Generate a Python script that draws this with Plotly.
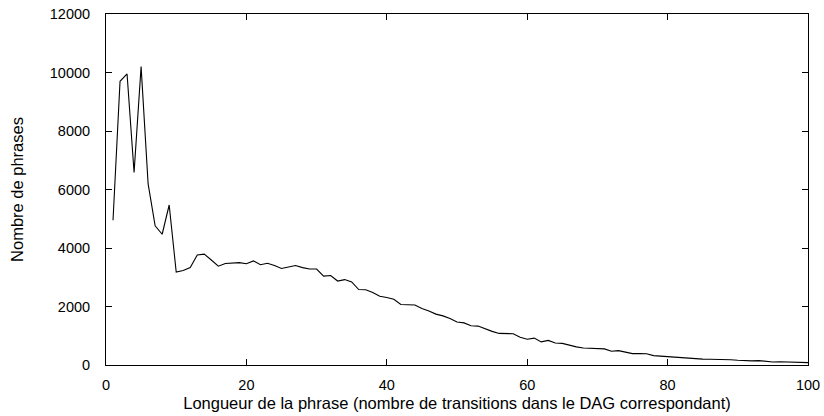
import plotly.graph_objects as go

lengths = list(range(1, 101))
counts = [
    4950, 9700, 9950, 6580, 10200, 6190, 4760, 4470, 5470, 3180,
    3230, 3330, 3760, 3790, 3590, 3380, 3470, 3480, 3500, 3460,
    3560, 3430, 3480, 3400, 3300, 3350, 3400, 3330, 3280, 3280,
    3040, 3060, 2870, 2920, 2840, 2580, 2575, 2480, 2350, 2310,
    2250, 2070, 2050, 2050, 1930, 1850, 1740, 1680, 1590, 1470,
    1440, 1340, 1330, 1230, 1150, 1080, 1080, 1070, 950, 880,
    920, 790, 840, 750, 740, 670, 620, 580, 570, 550,
    550, 470, 490, 440, 390, 390, 385, 320, 300, 285,
    265, 240, 230, 215, 200, 195, 195, 190, 180, 160,
    140, 140, 150, 120, 105, 110, 100, 90, 85, 80,
]
x_ticks = [0, 20, 40, 60, 80, 100]
y_ticks = [0, 2000, 4000, 6000, 8000, 10000, 12000]

fig = go.Figure(go.Scatter(x=lengths, y=counts, mode="lines",
                           line=dict(color="black", width=1.1), showlegend=False))

family = "Liberation Sans, Arial, Helvetica, sans-serif"
tick_font = dict(family=family, size=14.5, color="black")
axis_common = dict(showline=True, linecolor="black", linewidth=1, mirror="ticks",
                   ticks="inside", ticklen=6, tickcolor="black", tickwidth=1,
                   showgrid=False, zeroline=False, tickfont=tick_font,
                   automargin=False, tickformat="d", ticklabeloverflow="allow")

fig.update_layout(
    width=824, height=416,
    margin=dict(l=106, r=16, t=14, b=51),
    paper_bgcolor="white", plot_bgcolor="white",
    font=dict(family=family, color="black"),
    xaxis=dict(range=[0, 100], tickvals=x_ticks, ticklabelstandoff=7,
               title=dict(text="Longueur de la phrase (nombre de transitions dans le DAG correspondant)",
                          font=dict(family=family, size=16.5, color="black"), standoff=5),
               **axis_common),
    yaxis=dict(range=[0, 12000], tickvals=y_ticks, ticklabelstandoff=12,
               title=dict(text="Nombre de phrases",
                          font=dict(family=family, size=16.5, color="black"), standoff=21),
               **axis_common),
)
# remove the default 8px page margin so the figure sits at the window's corner
fig.write_html("out.html",
               config={"displayModeBar": False},
               post_script="document.body.style.margin='0';document.body.style.overflow='hidden';")
